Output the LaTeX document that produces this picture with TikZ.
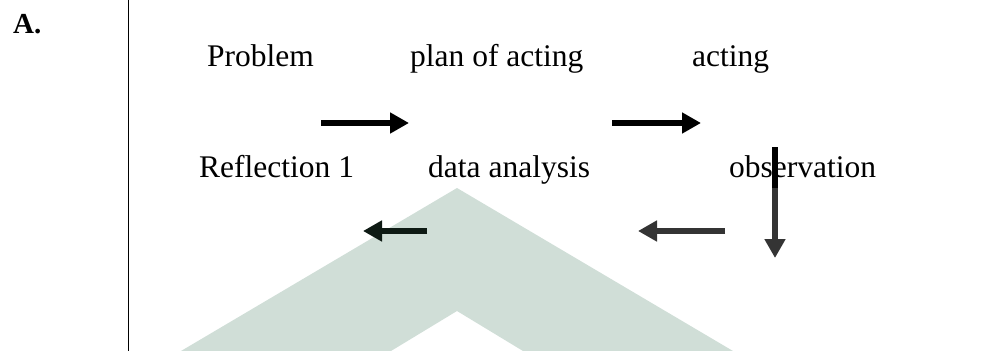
\documentclass[tikz,border=0pt]{standalone}
\usepackage{fontspec}
\setmainfont{Liberation Serif}
\usetikzlibrary{arrows.meta}
\definecolor{wmark}{RGB}{208,222,215}
\definecolor{darkarrow}{RGB}{14,26,20}
\definecolor{grayarrow}{RGB}{52,52,52}
\tikzset{
  lbl/.style={anchor=base west, inner sep=0pt, font=\fontsize{31.5}{36}\selectfont},
  flow/.style={line width=6.5pt, -{Triangle[length=19pt,width=20pt]}},
}
\begin{document}
\begin{tikzpicture}[x=1pt,y=-1pt]
\useasboundingbox (0,0) rectangle (989,351);
% watermark chevron
\fill[wmark] (457,188) -- (733,351) -- (523,351) -- (457,311) -- (391,351) -- (181,351) -- cycle;
% vertical rule
\draw[line width=1pt] (128,0) -- (128,351);
% label A.
\node[lbl, font=\fontsize{29}{34}\selectfont\bfseries] (A) at (13,33) {A.};
% texts
\node[lbl] (problem) at (207,66) {Problem};
\node[lbl] (plan) at (410,66) {plan of acting};
\node[lbl] (acting) at (692,66) {acting};
\node[lbl] (reflection) at (199,177) {Reflection 1};
\node[lbl] (analysis) at (428,177) {data analysis};
\node[lbl] (observation) at (729,177) {observation};
% arrow end points
\coordinate (a1s) at (321,123); \coordinate (a1e) at (409,123);
\coordinate (a2s) at (612,123); \coordinate (a2e) at (701,123);
\coordinate (a3s) at (775,147); \coordinate (a3m) at (775,188); \coordinate (a3e) at (775,258);
\coordinate (a4s) at (725,231); \coordinate (a4e) at (638,231);
\coordinate (a5s) at (427,231); \coordinate (a5e) at (363,231);
% arrows
\draw[flow, black] (a1s) -- (a1e);
\draw[flow, black] (a2s) -- (a2e);
\draw[flow, grayarrow] (a3s) -- (a3e);
\draw[line width=6.5pt, black] (a3s) -- (a3m);
\draw[flow, grayarrow] (a4s) -- (a4e);
\draw[flow, darkarrow] (a5s) -- (a5e);
\end{tikzpicture}
\end{document}
